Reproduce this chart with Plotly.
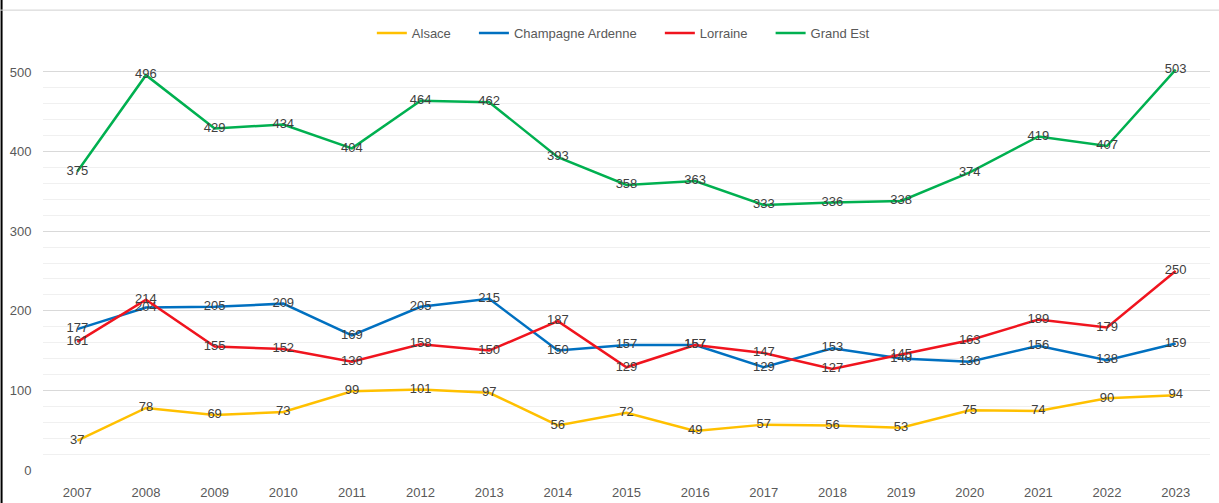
import plotly.graph_objects as go

years = [str(y) for y in range(2007, 2024)]
alsace = [37, 78, 69, 73, 99, 101, 97, 56, 72, 49, 57, 56, 53, 75, 74, 90, 94]
champagne = [177, 204, 205, 209, 169, 205, 215, 150, 157, 157, 129, 153, 140, 136, 156, 138, 159]
lorraine = [161, 214, 155, 152, 136, 158, 150, 187, 129, 157, 147, 127, 145, 163, 189, 179, 250]
grand_est = [375, 496, 429, 434, 404, 464, 462, 393, 358, 363, 333, 336, 338, 374, 419, 407, 503]

series = [
    ("Alsace", alsace, "#FFC000"),
    ("Champagne Ardenne", champagne, "#0070C0"),
    ("Lorraine", lorraine, "#F0141E"),
    ("Grand Est", grand_est, "#00B050"),
]

FONT = "Liberation Sans, Arial, sans-serif"
PAD = "\u00a0" * 5

fig = go.Figure()
for name, vals, color in series:
    fig.add_trace(go.Scatter(
        x=years, y=vals, name=name + PAD, mode="lines+text",
        line=dict(color=color, width=2.5),
        text=[str(v) for v in vals], textposition="middle center",
        textfont=dict(color="#404040", size=13, family=FONT),
        cliponaxis=False,
    ))

fig.update_layout(
    width=1219, height=503,
    margin=dict(l=43, r=9, t=68, b=33, autoexpand=False),
    paper_bgcolor="white", plot_bgcolor="white",
    font=dict(family=FONT, color="#595959", size=13),
    showlegend=True,
    legend=dict(orientation="h", x=0.505, xanchor="center", y=1.087, yanchor="middle",
                font=dict(size=13, color="#595959", family=FONT),
                itemwidth=30, tracegroupgap=0, bgcolor="rgba(0,0,0,0)"),
    xaxis=dict(type="category", range=[-0.5, 16.5], showgrid=False, zeroline=False,
               showline=False, ticks="outside", ticklen=10, tickcolor="rgba(0,0,0,0)",
               tickfont=dict(size=13, color="#595959"), automargin=False),
    yaxis=dict(range=[0, 505], tick0=0, dtick=100, showgrid=True, gridcolor="#D9D9D9", gridwidth=1,
               zeroline=False, showline=False, ticks="outside", ticklen=8,
               tickcolor="rgba(0,0,0,0)", tickfont=dict(size=13, color="#595959"),
               automargin=False,
               minor=dict(tick0=0, dtick=20, showgrid=True, gridcolor="#F0F0F0", gridwidth=1)),
    shapes=[
        dict(type="line", xref="paper", yref="paper", x0=-0.0355, x1=-0.0355, y0=-0.09, y1=1.2,
             line=dict(color="black", width=2)),
        dict(type="line", xref="paper", yref="paper", x0=-0.037, x1=1.01, y0=1.144, y1=1.144,
             line=dict(color="#D0D0D0", width=1)),
    ],
)

fig.write_html("out.html", config={"displayModeBar": False},
               post_script="document.body.style.margin='0';document.body.style.overflow='hidden';")
